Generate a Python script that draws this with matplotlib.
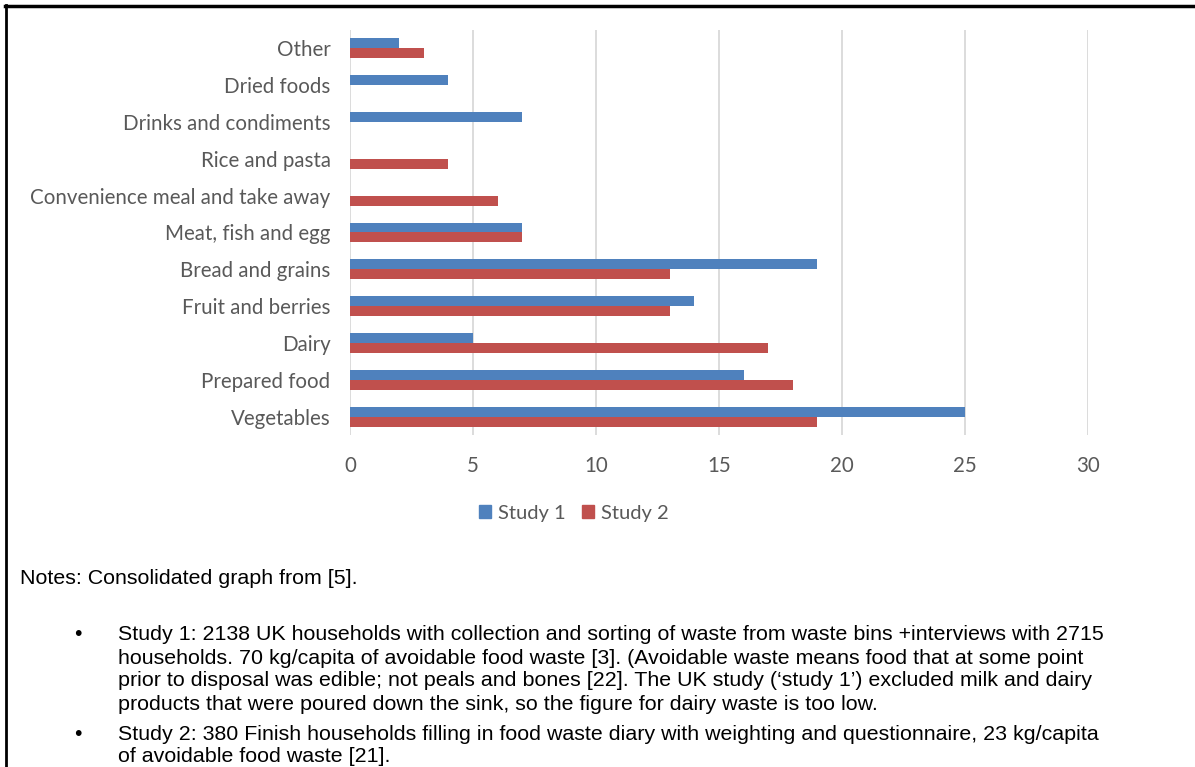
import numpy as np
import matplotlib.pyplot as plt
from matplotlib.lines import Line2D
from matplotlib.patches import Patch

# food waste categories, bottom to top as drawn on the y axis
categories = ["Vegetables", "Prepared food", "Dairy", "Fruit and berries",
              "Bread and grains", "Meat, fish and egg",
              "Convenience meal and take away", "Rice and pasta",
              "Drinks and condiments", "Dried foods", "Other"]
study1 = [25, 16, 5, 14, 19, 7, 0, 0, 7, 4, 2]
study2 = [19, 18, 17, 13, 13, 7, 6, 4, 0, 0, 3]
xticks = [0, 5, 10, 15, 20, 25, 30]

notes_head = "Notes: Consolidated graph from [5]."
notes_lines = [
    ("\u2022", "Study 1: 2138 UK households with collection and sorting of waste from waste bins +interviews with 2715"),
    ("", "households. 70 kg/capita of avoidable food waste [3]. (Avoidable waste means food that at some point"),
    ("", "prior to disposal was edible; not peals and bones [22]. The UK study (\u2018study 1\u2019) excluded milk and dairy"),
    ("", "products that were poured down the sink, so the figure for dairy waste is too low."),
    ("\u2022", "Study 2: 380 Finish households filling in food waste diary with weighting and questionnaire, 23 kg/capita"),
    ("", "of avoidable food waste [21]."),
]
line_y = [634, 658, 681, 704, 734, 757]

BLUE = "#4F81BD"
RED = "#C0504D"
GREY = "#595959"
W, H = 1195, 767

fig = plt.figure(figsize=(W / 100, H / 100), dpi=100)
ax = fig.add_axes([350 / W, 1 - 435 / H, (1088 - 350) / W, (435 - 30) / H])

y = np.arange(len(categories))
bh = 0.27
ax.barh(y + bh / 2, study1, height=bh, color=BLUE, linewidth=0, label="Study 1", zorder=3)
ax.barh(y - bh / 2, study2, height=bh, color=RED, linewidth=0, label="Study 2", zorder=3)

ax.set_xlim(0, 30)
ax.set_ylim(-0.5, len(categories) - 0.5)
ax.set_xticks(xticks)
ax.set_yticks(y)
ax.set_yticklabels(categories)
ax.grid(axis="x", color="#D9D9D9", linewidth=1.3, zorder=0)
for s in ax.spines.values():
    s.set_visible(False)
ax.tick_params(axis="both", length=0, labelsize=14.8, labelcolor=GREY)
ax.tick_params(axis="y", pad=14)
ax.tick_params(axis="x", pad=15)
for lab in ax.get_xticklabels() + ax.get_yticklabels():
    lab.set_fontfamily("Lato")

handles = [Patch(color=BLUE), Patch(color=RED)]
leg = fig.legend(handles, ["Study 1", "Study 2"], loc="center",
                 bbox_to_anchor=(574 / W, 1 - 513 / H), ncol=2, frameon=False,
                 handlelength=0.6, handleheight=0.6, handletextpad=0.35, columnspacing=0.8,
                 prop={"family": "Lato", "size": 14.5})
for t in leg.get_texts():
    t.set_color(GREY)

# notes under the chart
fs = 15.4
fig.text(20 / W, 1 - 578 / H, notes_head, family="Liberation Sans", fontsize=fs,
         va="center", ha="left", color="black")
for (bullet, txt), yy in zip(notes_lines, line_y):
    if bullet:
        fig.text(74 / W, 1 - yy / H, bullet, family="Liberation Sans", fontsize=fs,
                 va="center", ha="left")
    fig.text(118 / W, 1 - yy / H, txt, family="Liberation Sans", fontsize=fs,
             va="center", ha="left")

# frame along the top and left edges
fig.add_artist(Line2D([6 / W, 6 / W], [0, 1 - 5 / H], color="black", linewidth=2))
fig.add_artist(Line2D([5 / W, 1], [1 - 6 / H, 1 - 6 / H], color="black", linewidth=2.5))

fig.savefig("out.png", dpi=100)
